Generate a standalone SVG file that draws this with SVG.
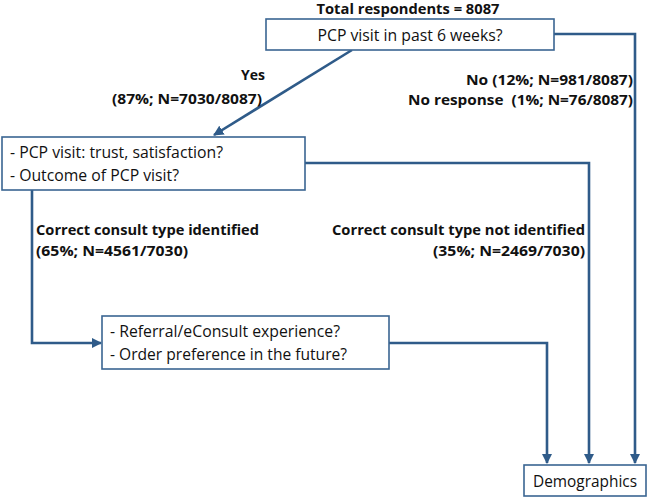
<svg xmlns="http://www.w3.org/2000/svg" width="649" height="498" viewBox="0 0 649 498">
<style>
.box{fill:#fff;stroke:#3a6592;stroke-width:1.6}
.t{font-family:"Open Sans","Liberation Sans",sans-serif;font-size:16px;fill:#111}
.b{font-family:"Open Sans","Liberation Sans",sans-serif;font-size:15px;font-weight:bold;fill:#111}
.c{fill:none;stroke:#2f5b89;stroke-width:2.6}
</style>
<defs>
<marker id="ah" viewBox="0 0 10 10" refX="9" refY="5" markerWidth="4" markerHeight="4" orient="auto" markerUnits="strokeWidth">
<path d="M0,0 L10,5 L0,10 z" fill="#2f5b89"/>
</marker>
</defs>
<g id="connectors">
<path class="c" d="M352,50 L214,135" marker-end="url(#ah)"/>
<path class="c" d="M554,34 L635,34 L635,463" marker-end="url(#ah)"/>
<path class="c" d="M305,163 L589,163 L589,463" marker-end="url(#ah)"/>
<path class="c" d="M32,190 L32,343 L101,343" marker-end="url(#ah)"/>
<path class="c" d="M389,343 L547,343 L547,463" marker-end="url(#ah)"/>
</g>
<g id="labels">
<text class="b" x="408" y="14" text-anchor="middle" textLength="183" lengthAdjust="spacingAndGlyphs" style="font-size:14px">Total respondents = 8087</text>
<text class="b" x="265" y="80" text-anchor="end" textLength="24" lengthAdjust="spacingAndGlyphs">Yes</text>
<text class="b" x="262" y="104" text-anchor="end" textLength="150" lengthAdjust="spacingAndGlyphs">(87%; N=7030/8087)</text>
<text class="b" x="633" y="85" text-anchor="end" textLength="167" lengthAdjust="spacingAndGlyphs">No (12%; N=981/8087)</text>
<text class="b" x="633" y="105" text-anchor="end" textLength="225" lengthAdjust="spacingAndGlyphs" xml:space="preserve">No response  (1%; N=76/8087)</text>
<text class="b" x="36" y="235" textLength="223" lengthAdjust="spacingAndGlyphs">Correct consult type identified</text>
<text class="b" x="36" y="256" textLength="152" lengthAdjust="spacingAndGlyphs">(65%; N=4561/7030)</text>
<text class="b" x="585" y="235" text-anchor="end" textLength="253" lengthAdjust="spacingAndGlyphs">Correct consult type not identified</text>
<text class="b" x="585" y="256" text-anchor="end" textLength="152" lengthAdjust="spacingAndGlyphs">(35%; N=2469/7030)</text>
</g>
<g id="n1">
<rect class="box" x="266" y="19" width="288" height="31"/>
<text class="t" x="410" y="41" text-anchor="middle" textLength="185" lengthAdjust="spacingAndGlyphs">PCP visit in past 6 weeks?</text>
</g>
<g id="n2">
<rect class="box" x="2" y="137" width="303" height="53"/>
<text class="t" x="10" y="158" textLength="213" lengthAdjust="spacingAndGlyphs">- PCP visit: trust, satisfaction?</text>
<text class="t" x="10" y="181" textLength="169" lengthAdjust="spacingAndGlyphs">- Outcome of PCP visit?</text>
</g>
<g id="n3">
<rect class="box" x="102" y="316" width="287" height="53"/>
<text class="t" x="110" y="337" textLength="230" lengthAdjust="spacingAndGlyphs">- Referral/eConsult experience?</text>
<text class="t" x="110" y="360" textLength="237" lengthAdjust="spacingAndGlyphs">- Order preference in the future?</text>
</g>
<g id="n4">
<rect class="box" x="524" y="465" width="122" height="31"/>
<text class="t" x="585" y="487" text-anchor="middle" textLength="104" lengthAdjust="spacingAndGlyphs">Demographics</text>
</g>
</svg>
